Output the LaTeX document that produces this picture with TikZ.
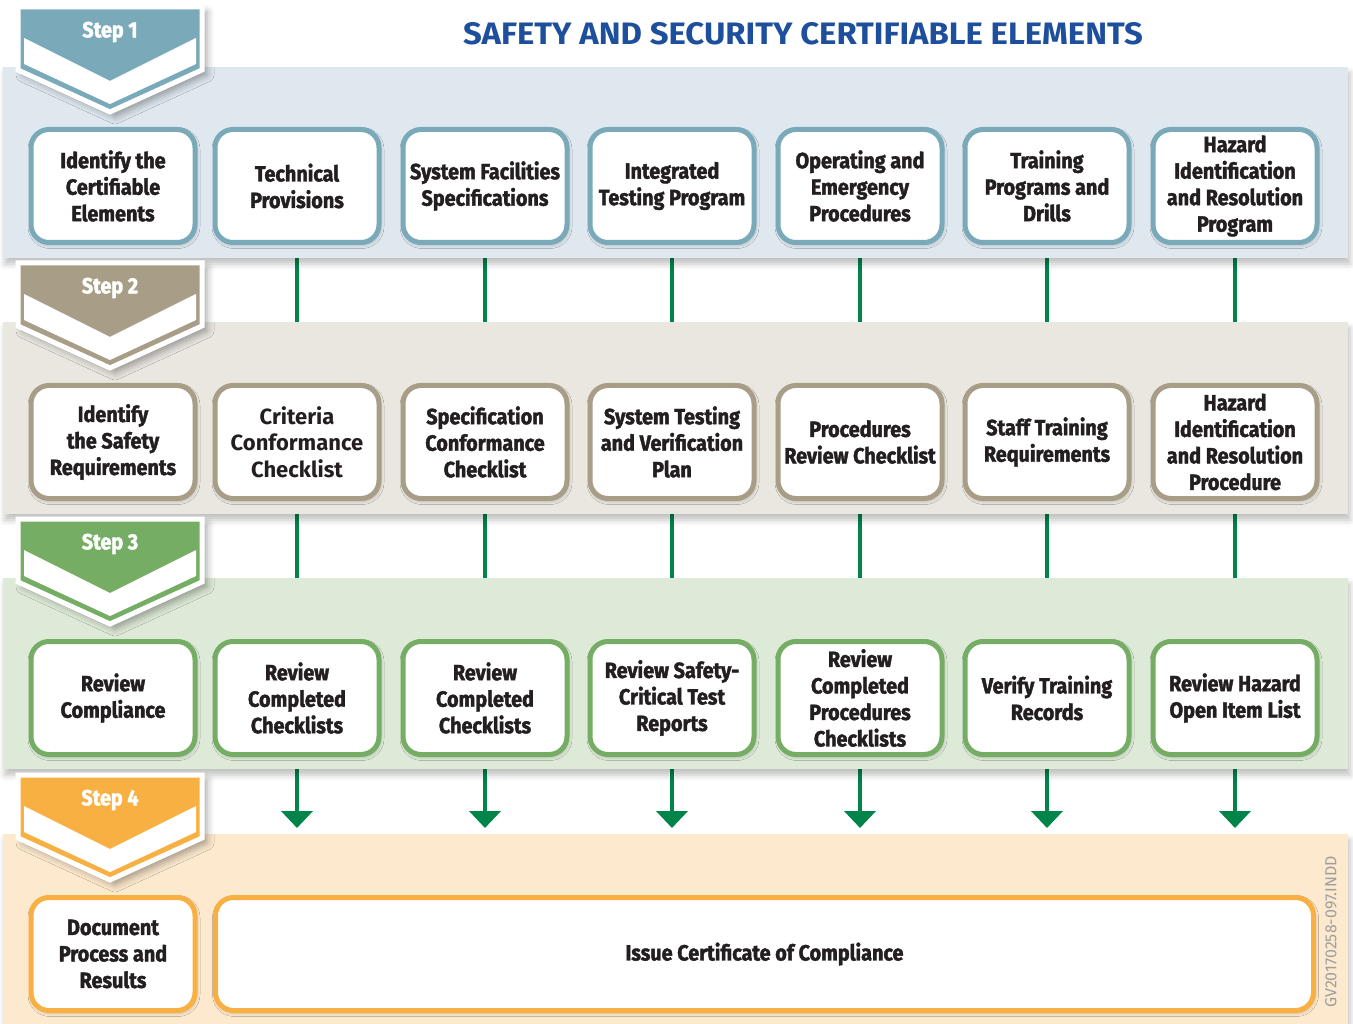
\documentclass[tikz,border=0pt]{standalone}
\usepackage{fontspec}
\setmainfont{Fira Sans}
\newfontfamily\cond{Fira Sans}[FakeStretch=0.9, BoldFeatures={FakeBold=1.8}]
\newfontfamily\semi{Fira Sans}[FakeStretch=1.0]
\newfontfamily\ttlfont{Fira Sans}[FakeStretch=1.06]
\newfontfamily\wmfont{Fira Sans}
\usetikzlibrary{arrows.meta,shadows.blur}
\definecolor{cA}{RGB}{122,170,186}
\definecolor{bA}{RGB}{222,232,238}
\definecolor{cB}{RGB}{168,158,135}
\definecolor{bB}{RGB}{234,230,224}
\definecolor{cC}{RGB}{118,173,101}
\definecolor{bC}{RGB}{222,234,216}
\definecolor{cD}{RGB}{248,176,67}
\definecolor{bD}{RGB}{253,233,206}
\definecolor{lk}{RGB}{0,132,74}
\definecolor{ttl}{RGB}{29,79,156}
\definecolor{txt}{RGB}{35,31,32}
\pgfdeclarelayer{lines}
\pgfdeclarelayer{bands}
\pgfsetlayers{lines,bands,main}
\tikzset{
  box/.style={draw=#1, line width=5pt, rounded corners=18pt, fill=white,
    minimum width=164pt, minimum height=113pt, inner sep=0pt, align=center,
    text=txt, font=\cond\bfseries\fontsize{22}{26.5}\selectfont,
    blur shadow={shadow xshift=1pt, shadow yshift=-2pt, shadow opacity=30, shadow blur radius=4pt}},
  band/.style={fill=#1, blur shadow={shadow xshift=2pt, shadow yshift=-6pt, shadow opacity=25, shadow blur radius=6pt}},
  link/.style={draw=lk, line width=4.5pt},
  arr/.style={draw=lk, line width=4.5pt, -{Triangle[width=31pt,length=17pt]}},
  steplbl/.style={text=white, font=\cond\bfseries\fontsize{22}{22}\selectfont, inner sep=0pt},
}
\newcommand{\stepchev}[4]{%
  \draw[white, line width=5pt, fill=#2,
    blur shadow={shadow xshift=5pt, shadow yshift=-5pt, shadow opacity=35, shadow blur radius=7pt}]
    (18,#1) -- (202,#1) -- (202,#1+63) -- (110,#1+105) -- (18,#1+63) -- cycle;
  \fill[white] (24,#1+31) -- (110,#1+74) -- (196,#1+31) -- (196,#1+57) -- (110,#1+97) -- (24,#1+57) -- cycle;
  \node[steplbl] (#4) at (110,#1+25) {#3};
}
\begin{document}
\begin{tikzpicture}[x=1pt,y=-1pt]
\useasboundingbox (0,0) rectangle (1353,1024);

% title
\node[text=ttl, font=\ttlfont\bfseries\fontsize{31}{31}\selectfont, inner sep=0pt] (title) at (803,34) {SAFETY AND SECURITY CERTIFIABLE ELEMENTS};

% row 1
\node[box=cA] (r1-1) at (113,186) {Identify the\\Certifiable\\Elements};
\node[box=cA] (r1-2) at (297,186) {Technical\\Provisions};
\node[box=cA] (r1-3) at (485,186) {System Facilities\\Specifications};
\node[box=cA] (r1-4) at (672,186) {Integrated\\Testing Program};
\node[box=cA] (r1-5) at (860,186) {Operating and\\Emergency\\Procedures};
\node[box=cA] (r1-6) at (1047,186) {Training\\Programs and\\Drills};
\node[box=cA] (r1-7) at (1235,186) {Hazard\\Identification\\and Resolution\\Program};

% row 2
\node[box=cB] (r2-1) at (113,442) {Identify\\the Safety\\Requirements};
\node[box=cB, font=\semi\fontsize{22}{26.5}\selectfont\bfseries] (r2-2) at (297,442) {Criteria\\Conformance\\Checklist};
\node[box=cB] (r2-3) at (485,442) {Specification\\Conformance\\Checklist};
\node[box=cB] (r2-4) at (672,442) {System Testing\\and Verification\\Plan};
\node[box=cB] (r2-5) at (860,442) {Procedures\\Review Checklist};
\node[box=cB] (r2-6) at (1047,442) {Staff Training\\Requirements};
\node[box=cB] (r2-7) at (1235,442) {Hazard\\Identification\\and Resolution\\Procedure};

% row 3
\node[box=cC] (r3-1) at (113,698) {Review\\Compliance};
\node[box=cC] (r3-2) at (297,698) {Review\\Completed\\Checklists};
\node[box=cC] (r3-3) at (485,698) {Review\\Completed\\Checklists};
\node[box=cC] (r3-4) at (672,698) {Review Safety-\\Critical Test\\Reports};
\node[box=cC] (r3-5) at (860,698) {Review\\Completed\\Procedures\\Checklists};
\node[box=cC] (r3-6) at (1047,698) {Verify Training\\Records};
\node[box=cC] (r3-7) at (1235,698) {Review Hazard\\Open Item List};

% row 4
\node[box=cD] (r4-1) at (113,954) {Document\\Process and\\Results};
\node[box=cD, minimum width=1098pt] (r4-2) at (764.5,954) {\raisebox{-2pt}{Issue Certificate of Compliance}};

\coordinate (tip) at (0,828);

% watermark
\node[rotate=90, text=black!38, font=\wmfont\fontsize{16}{16}\selectfont, inner sep=0pt] (wm) at (1331,932) {GV20170258-097.INDD};

% step chevrons
\stepchev{7}{cA}{Step 1}{s1}
\stepchev{263}{cB}{Step 2}{s2}
\stepchev{519}{cC}{Step 3}{s3}
\stepchev{775}{cD}{Step 4}{s4}

\begin{pgfonlayer}{bands}
  \path[band=bA] (3,67) rectangle (1348,258);
  \path[band=bB] (3,322) rectangle (1348,514);
  \path[band=bC] (3,578) rectangle (1348,769);
  \path[band=bD] (3,834) rectangle (1348,1030);
\end{pgfonlayer}

\begin{pgfonlayer}{lines}
  \foreach \i in {2,...,7} {
    \draw[link] (r1-\i.south) -- (r2-\i.north);
    \draw[link] (r2-\i.south) -- (r3-\i.north);
    \draw[arr] (r3-\i.south) -- (r3-\i.south |- tip);
  }
\end{pgfonlayer}
\end{tikzpicture}
\end{document}
